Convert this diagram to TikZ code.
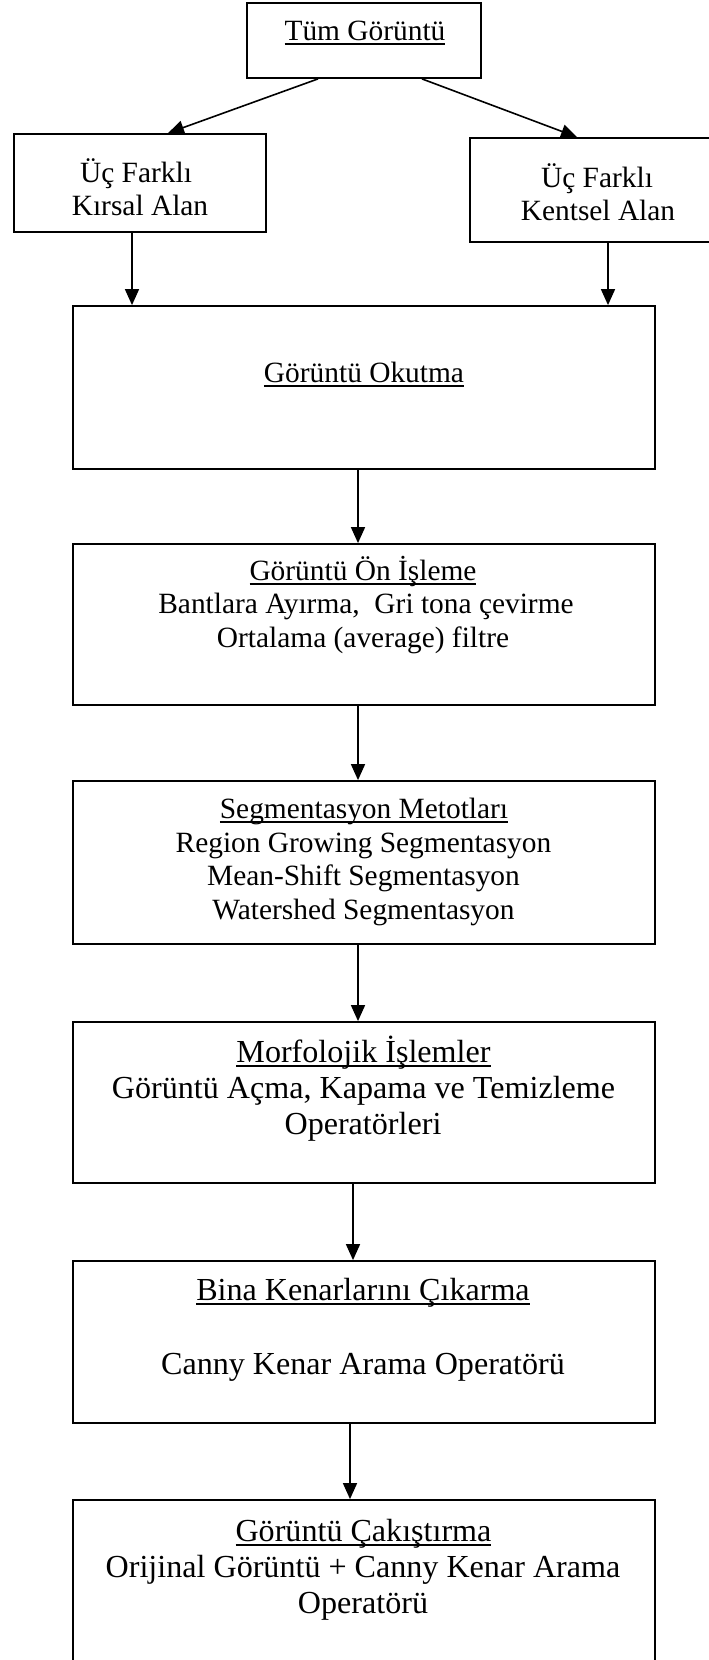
\documentclass[tikz,border=0pt]{standalone}
\usepackage{fontspec}
\setmainfont{Liberation Serif}
\usetikzlibrary{arrows.meta}
\newcommand{\ulx}[1]{\setbox0=\hbox{#1}\rlap{\rule[-4.5pt]{\wd0}{1.5pt}}\box0}
\tikzset{
  box/.style={draw=black, line width=1.8pt, fill=none, inner sep=0pt, rectangle},
  txt/.style={inner sep=0pt, anchor=base, font=\fontsize{29.4}{34}\selectfont},
  txtb/.style={inner sep=0pt, anchor=base, font=\fontsize{32.1}{37}\selectfont},
  arr/.style={draw=black, line width=1.6pt, -{Triangle[length=16pt,width=14pt]}}
}
\begin{document}
\begin{tikzpicture}[x=1pt,y=-1pt]
\clip (0,0) rectangle (709,1660);
\fill[white] (0,0) rectangle (709,1660);
% boxes
\node[box, minimum width=234pt, minimum height=75pt] (top) at (364,40.5) {};
\node[box, minimum width=252pt, minimum height=98pt] (left) at (140,183) {};
\node[box, minimum width=252pt, minimum height=104pt] (right) at (596,190) {};
\node[box, minimum width=582pt, minimum height=163pt] (okutma) at (364,387.5) {};
\node[box, minimum width=582pt, minimum height=161pt] (onis) at (364,624.5) {};
\node[box, minimum width=582pt, minimum height=163pt] (segm) at (364,862.5) {};
\node[box, minimum width=582pt, minimum height=161pt] (morf) at (364,1102.5) {};
\node[box, minimum width=582pt, minimum height=162pt] (bina) at (364,1342) {};
\node[box, minimum width=582pt, minimum height=200pt] (cak) at (364,1600) {};
% texts
\node[txt] (t-top) at (365,40) {\ulx{Tüm Görüntü}};
\node[txt] (t-l1) at (136,182) {Üç Farklı};
\node[txt] (t-l2) at (140,215) {Kırsal Alan};
\node[txt] (t-r1) at (597,187) {Üç Farklı};
\node[txt] (t-r2) at (598,220) {Kentsel Alan};
\node[txt] (t-ok) at (364,382) {\ulx{Görüntü Okutma}};
\node[txt] (t-on1) at (363,580) {\ulx{Görüntü Ön İşleme}};
\node[txt] (t-on2) at (366,613) {Bantlara Ayırma,\ \ Gri tona çevirme};
\node[txt] (t-on3) at (363,647) {Ortalama (average) filtre};
\node[txt] (t-s1) at (364,818) {\ulx{Segmentasyon Metotları}};
\node[txt] (t-s2) at (363.5,852) {Region Growing Segmentasyon};
\node[txt] (t-s3) at (363.5,885.5) {Mean-Shift Segmentasyon};
\node[txt] (t-s4) at (363.5,919) {Watershed Segmentasyon};
\node[txtb] (t-m1) at (363.5,1062) {\ulx{Morfolojik İşlemler}};
\node[txtb] (t-m2) at (363.5,1098) {Görüntü Açma, Kapama ve Temizleme};
\node[txtb] (t-m3) at (363,1134) {Operatörleri};
\node[txtb] (t-b1) at (363,1300) {\ulx{Bina Kenarlarını Çıkarma}};
\node[txtb] (t-b2) at (363,1374) {Canny Kenar Arama Operatörü};
\node[txtb] (t-c1) at (363.5,1541) {\ulx{Görüntü Çakıştırma}};
\node[txtb] (t-c2) at (363,1577) {Orijinal Görüntü + Canny Kenar Arama};
\node[txtb] (t-c3) at (363,1613) {Operatörü};
% connectors
\draw[arr] ([xshift=-46pt]top.south) -- ([xshift=28pt]left.north);
\draw[arr] ([xshift=58pt]top.south) -- ([xshift=-19pt]right.north);
\draw[arr] ([xshift=-8pt]left.south) -- ([xshift=-8pt]left.south |- okutma.north);
\draw[arr] ([xshift=12pt]right.south) -- ([xshift=12pt]right.south |- okutma.north);
\draw[arr] ([xshift=-6pt]okutma.south) -- ([xshift=-6pt]onis.north);
\draw[arr] ([xshift=-6pt]onis.south) -- ([xshift=-6pt]segm.north);
\draw[arr] ([xshift=-6pt]segm.south) -- ([xshift=-6pt]morf.north);
\draw[arr] ([xshift=-11pt]morf.south) -- ([xshift=-11pt]bina.north);
\draw[arr] ([xshift=-14pt]bina.south) -- ([xshift=-14pt]cak.north);
\end{tikzpicture}
\end{document}
